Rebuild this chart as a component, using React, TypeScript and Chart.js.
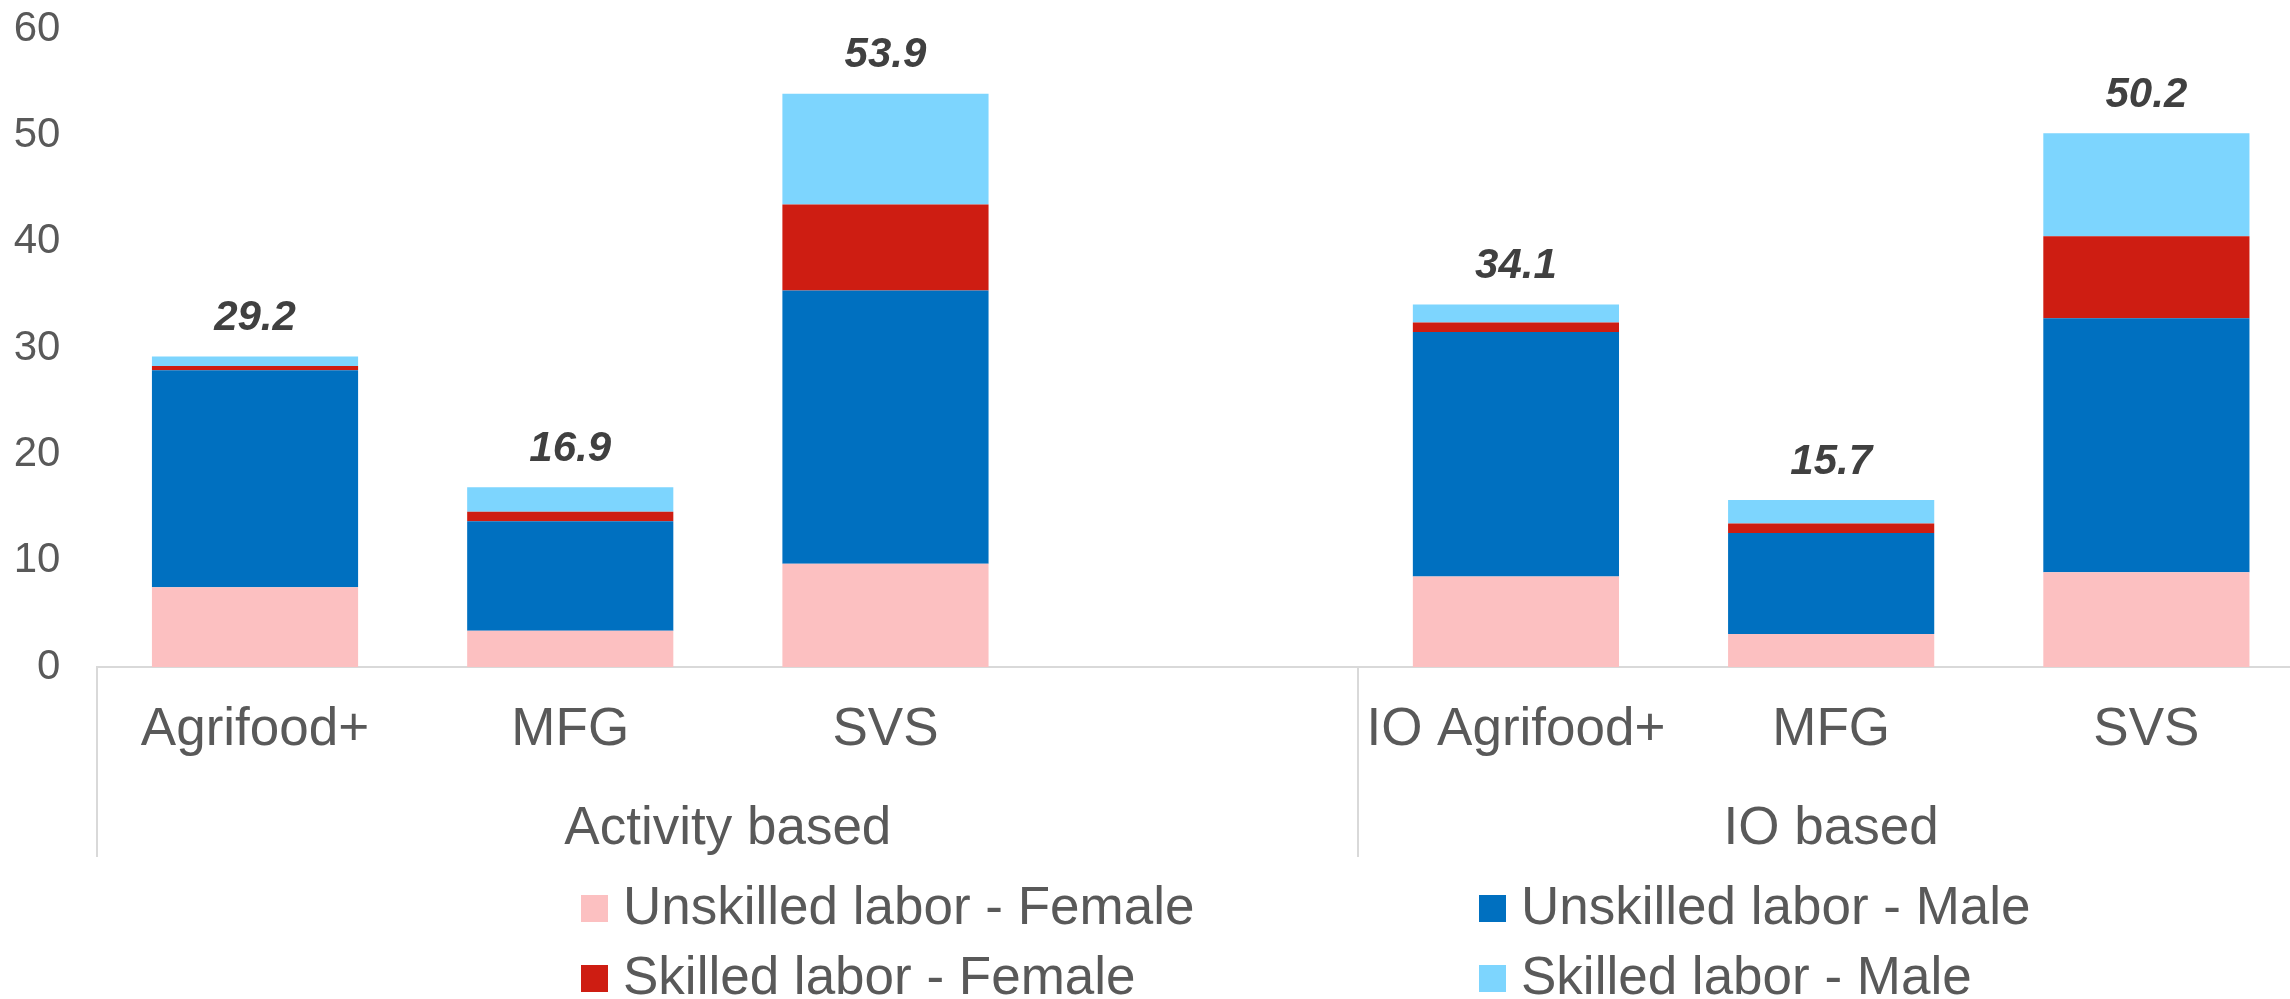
import React, { useEffect, useRef } from 'react';
import { Chart, registerables } from 'chart.js';

Chart.register(...registerables);

// ---- Data ----
const categories = ['Agrifood+', 'MFG', 'SVS', '', 'IO Agrifood+', 'MFG', 'SVS'];
const groupNames = ['Activity based', 'IO based'];
const groupEnds = [3, 6]; // last category index of each group
const seriesNames = [
  'Unskilled labor - Female',
  'Unskilled labor - Male',
  'Skilled labor - Female',
  'Skilled labor - Male',
];
const unskilledFemale = [7.5, 3.4, 9.7, null, 8.5, 3.1, 8.9];
const unskilledMale = [20.4, 10.3, 25.7, null, 23.0, 9.5, 23.9];
const skilledFemale = [0.4, 0.9, 8.1, null, 0.9, 0.9, 7.7];
const skilledMale = [0.9, 2.3, 10.4, null, 1.7, 2.2, 9.7];
const yMin = 0;
const yMax = 60;
const yStep = 10;

// ---- Styles ----
const colors = ['#FCC0C1', '#0070C0', '#CE1D12', '#7DD5FE'];
const FONT = "'Liberation Sans', Arial, sans-serif";
const TEXT = '#595959';
const LINE = '#D9D9D9';

const seriesData = [unskilledFemale, unskilledMale, skilledFemale, skilledMale];

const decorPlugin = {
  id: 'decor',
  afterDraw(chart: any) {
    const ctx = chart.ctx;
    const xs = chart.scales.x;
    const ys = chart.scales.y;
    const area = chart.chartArea;
    ctx.save();

    // totals
    ctx.font = `italic bold 42px ${FONT}`;
    ctx.fillStyle = '#404040';
    ctx.textAlign = 'center';
    ctx.textBaseline = 'alphabetic';
    categories.forEach((_, i) => {
      const vals = seriesData.map((s) => s[i]);
      if (vals.every((v) => v === null)) return;
      const total = vals.reduce((a: number, v) => a + (v ?? 0), 0);
      const x = xs.getPixelForValue(i);
      const y = ys.getPixelForValue(total) - 26.5;
      ctx.fillText(total.toFixed(1), x, y);
    });

    // group separators
    const half = (xs.getPixelForValue(1) - xs.getPixelForValue(0)) / 2;
    const bounds = [xs.left];
    groupEnds.forEach((e) => bounds.push(xs.getPixelForValue(e) + half));
    ctx.strokeStyle = LINE;
    ctx.lineWidth = 2;
    bounds.forEach((bx) => {
      ctx.beginPath();
      ctx.moveTo(Math.round(bx), area.bottom);
      ctx.lineTo(Math.round(bx), 857);
      ctx.stroke();
    });

    // group labels
    ctx.font = `53px ${FONT}`;
    ctx.fillStyle = TEXT;
    groupNames.forEach((g, k) => {
      const cx = (bounds[k] + bounds[k + 1]) / 2;
      ctx.fillText(g, cx, 844);
    });

    // legend (2 x 2)
    const colX = [581, 1479];
    const rowY = [895, 965];
    const box = 27;
    ctx.textAlign = 'left';
    seriesNames.forEach((name, i) => {
      const c = i % 2;
      const r = Math.floor(i / 2);
      ctx.fillStyle = colors[i];
      ctx.fillRect(colX[c], rowY[r], box, box);
      ctx.fillStyle = TEXT;
      ctx.fillText(name, colX[c] + 42, rowY[r] + 28.5);
    });

    ctx.restore();
  },
};

export default function App() {
  const ref = useRef<HTMLCanvasElement>(null);

  useEffect(() => {
    if (!ref.current) return;
    Chart.defaults.font.family = FONT;
    const chart = new Chart(ref.current, {
      type: 'bar',
      data: {
        labels: categories,
        datasets: seriesNames.map((name, i) => ({
          label: name,
          data: seriesData[i] as any,
          backgroundColor: colors[i],
          borderWidth: 0,
          barPercentage: 0.654,
          categoryPercentage: 1,
        })),
      },
      options: {
        responsive: false,
        animation: false,
        devicePixelRatio: 1,
        layout: { padding: { top: 29, left: 0, right: 0, bottom: 0 } },
        plugins: {
          legend: { display: false },
          tooltip: { enabled: false },
        },
        scales: {
          x: {
            stacked: true,
            offset: true,
            grid: { display: false, drawTicks: false },
            border: { display: true, color: LINE, width: 2 },
            ticks: {
              autoSkip: false,
              maxRotation: 0,
              minRotation: 0,
              padding: 31.7,
              color: TEXT,
              font: { size: 53, family: FONT },
            },
            afterFit: (s: any) => {
              s.height = 332;
              s.paddingLeft = 0;
              s.paddingRight = 0;
            },
          },
          y: {
            stacked: true,
            min: yMin,
            max: yMax,
            grid: { display: false, drawTicks: false },
            border: { display: false },
            ticks: {
              stepSize: yStep,
              padding: 37,
              color: TEXT,
              font: { size: 42, family: FONT },
            },
            afterFit: (s: any) => {
              s.width = 97.4;
              s.paddingTop = 0;
              s.paddingBottom = 0;
            },
          },
        },
      },
      plugins: [decorPlugin],
    });
    return () => chart.destroy();
  }, []);

  return (
    <div
      style={{
        position: 'fixed',
        left: 0,
        top: 0,
        width: 2290,
        height: 999,
        overflow: 'hidden',
        background: '#fff',
      }}
    >
      <canvas ref={ref} width={2304} height={999} style={{ width: 2304, height: 999, display: 'block' }} />
    </div>
  );
}
